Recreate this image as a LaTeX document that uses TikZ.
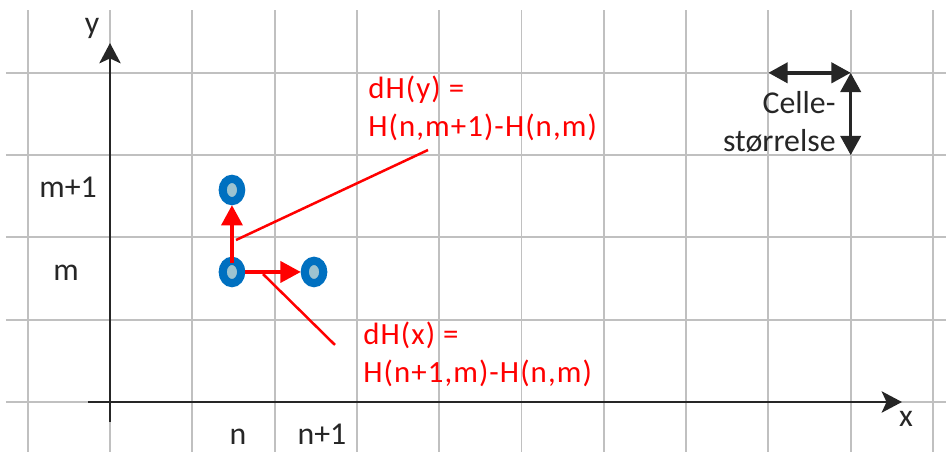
\documentclass[tikz,border=0pt]{standalone}
\usepackage{fontspec}
\setmainfont{Carlito}
\newfontfamily\lblfont[LetterSpace=3.5]{Carlito}
\usetikzlibrary{arrows.meta,shapes.geometric}
\definecolor{gridgray}{HTML}{C0C0C0}
\definecolor{axisgray}{HTML}{262626}
\definecolor{ringblue}{HTML}{0070C0}
\definecolor{coreblue}{HTML}{9DC3D0}

\begin{document}
\begin{tikzpicture}[x=1.5cm,y=1.5cm,
	font=\fontsize{16.5}{20.2}\selectfont,
	gridline/.style={gridgray,line width=1pt},
	axis/.style={axisgray,line width=1.5pt,-{Stealth[length=10.5pt,width=11pt,inset=2.5pt]}},
	lbl/.style={text=axisgray,inner sep=0pt},
	dot/.style={ellipse,draw=ringblue,fill=coreblue,line width=4.2pt,
		minimum width=9.6pt,minimum height=11.6pt,inner sep=0pt},
	redarrow/.style={red,line width=1.6pt,-{Triangle[length=10.5pt,width=11pt]}},
	leader/.style={red,line width=1.3pt},
	redlbl/.style={text=red,inner sep=0pt,align=left,anchor=base west,
		font=\lblfont\fontsize{16}{20.2}\selectfont},
	sizearrow/.style={axisgray,line width=1.8pt,
		{Triangle[length=10pt,width=10.5pt]}-{Triangle[length=10pt,width=10.5pt]}}]
	\useasboundingbox (-1.3366,-0.5954) rectangle (10.158,4.8846);
	% cell grid
	\foreach \gx in {-1,...,10}
		\draw[gridline] (\gx,-0.7) -- (\gx,4.763);
	\foreach \gy in {0,...,4}
		\draw[gridline] (-1.264,\gy) -- (10.3,\gy);
	% axes
	\coordinate (xs) at (-0.267,0);
	\coordinate (xe) at (9.623,0);
	\coordinate (ys) at (0,-0.243);
	\coordinate (ye) at (0,4.362);
	\draw[axis] (xs) -- (xe);
	\draw[axis] (ys) -- (ye);
	\node[lbl] (ylab) at (-0.219,4.544) {y};
	\node[lbl] (xlab) at (9.672,-0.207) {x};
	\node[lbl,anchor=base] (mlab1) at (-0.51,2.479) {m+1};
	\node[lbl,anchor=base] (mlab) at (-0.535,1.482) {m};
	\node[lbl,anchor=base] (nlab) at (1.555,-0.522) {n};
	\node[lbl,anchor=base] (nlab1) at (2.576,-0.522) {n+1};
	% grid points
	\node[dot] (nm) at (1.482,1.580) {};
	\node[dot] (nm1) at (1.482,2.576) {};
	\node[dot] (n1m) at (2.479,1.580) {};
	\draw[redarrow,shorten <=-3pt] (nm) -- (nm1);
	\draw[redarrow] (nm) -- (n1m);
	% differences
	\node[redlbl] (dhy) at (3.135,3.220) {dH(y) =\\H(n,m+1)-H(n,m)};
	\node[redlbl] (dhx) at (3.074,0.231) {dH(x) =\\H(n+1,m)-H(n,m)};
	\coordinate (ly1) at (1.531,1.968);
	\coordinate (ly2) at (3.864,3.062);
	\coordinate (lx1) at (1.859,1.555);
	\coordinate (lx2) at (2.734,0.693);
	\draw[leader] (ly1) -- (ly2);
	\draw[leader] (lx1) -- (lx2);
	% cell size
	\coordinate (c1) at (8,4);
	\coordinate (c2) at (9,4);
	\coordinate (c3) at (9,3);
	\draw[sizearrow] (c1) -- (c2);
	\draw[sizearrow] (c2) -- (c3);
	\node[lbl,align=right,anchor=base east] (cell) at (8.821,3.038) {Celle-\\størrelse};
\end{tikzpicture}
\end{document}
